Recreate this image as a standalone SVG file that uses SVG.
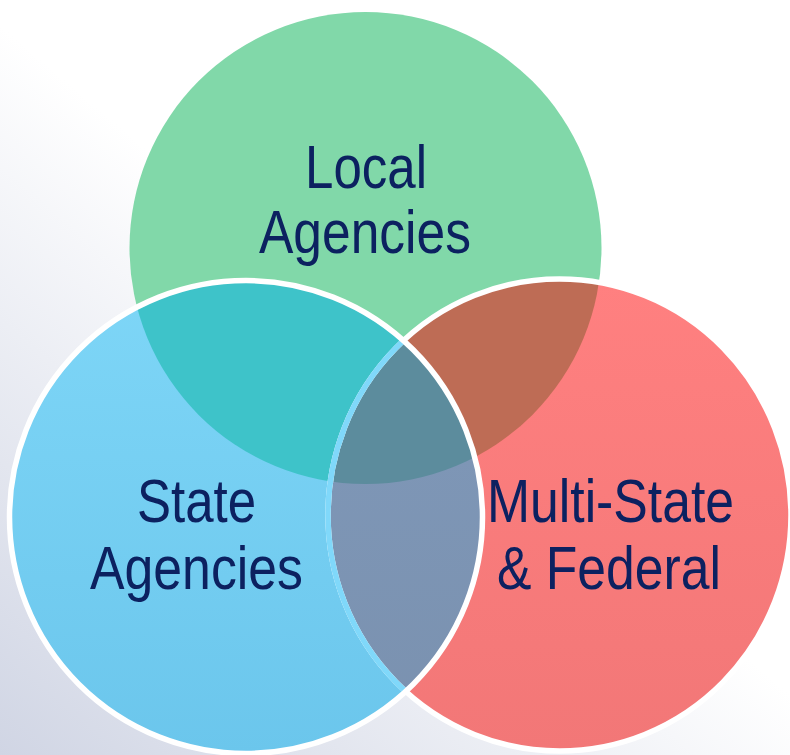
<svg xmlns="http://www.w3.org/2000/svg" width="790" height="755" viewBox="0 0 790 755">
<style>
.lbl{font-family:"Liberation Sans",Arial,sans-serif;font-size:62px;fill:#0C2160;text-anchor:middle}
.ws{fill:none;stroke:#FFFFFF;stroke-width:5.5}
</style>
<defs>
<linearGradient id="bg" gradientUnits="userSpaceOnUse" x1="360" y1="330" x2="0" y2="755">
<stop offset="0" stop-color="#FFFFFF"/>
<stop offset="1" stop-color="#D0D5E4"/>
</linearGradient>
<linearGradient id="gBlue" x1="0" y1="0" x2="0" y2="1">
<stop offset="0" stop-color="#7ED6F7"/>
<stop offset="1" stop-color="#6BC6EC"/>
</linearGradient>
<linearGradient id="gRed" x1="0" y1="0" x2="0" y2="1">
<stop offset="0" stop-color="#FF8080"/>
<stop offset="1" stop-color="#F27777"/>
</linearGradient>
<linearGradient id="gBR" x1="0" y1="0" x2="0" y2="1">
<stop offset="0" stop-color="#8099BA"/>
<stop offset="1" stop-color="#7A91AF"/>
</linearGradient>
<clipPath id="cG"><circle cx="365.5" cy="248" r="236"/></clipPath>
<clipPath id="cB"><circle cx="246" cy="517" r="236.5"/></clipPath>
<clipPath id="cR"><ellipse cx="559.5" cy="515" rx="231.5" ry="236"/></clipPath>
</defs>
<rect x="0" y="0" width="790" height="755" fill="url(#bg)"/>
<g id="local-agencies">
<circle cx="365.5" cy="248" r="236" fill="#81D8A9"/>
</g>
<g id="multi-state-federal">
<ellipse cx="559.5" cy="515" rx="231.5" ry="236" fill="url(#gRed)"/>
</g>
<g id="state-agencies">
<circle cx="246" cy="517" r="236.5" fill="url(#gBlue)"/>
</g>
<g id="overlaps">
<circle cx="246" cy="517" r="236.5" fill="#3EC3C9" clip-path="url(#cG)"/>
<ellipse cx="559.5" cy="515" rx="231.5" ry="236" fill="#BE6C55" clip-path="url(#cG)"/>
<circle cx="246" cy="517" r="236.5" fill="url(#gBR)" clip-path="url(#cR)"/>
<g clip-path="url(#cG)">
<circle cx="246" cy="517" r="236.5" fill="#5C8C9D" clip-path="url(#cR)"/>
</g>
</g>
<g id="outlines">
<ellipse class="ws" cx="559.5" cy="515" rx="231.5" ry="236"/>
<ellipse cx="559.5" cy="515" rx="231.5" ry="236" fill="none" stroke="#80D8FA" stroke-width="5.5" clip-path="url(#cB)"/>
<circle class="ws" cx="246" cy="517" r="236.5"/>
</g>
<g id="labels">
<text class="lbl" x="366" y="188" textLength="122" lengthAdjust="spacingAndGlyphs">Local</text>
<text class="lbl" x="365" y="253" textLength="212" lengthAdjust="spacingAndGlyphs">Agencies</text>
<text class="lbl" x="196.5" y="522" textLength="119" lengthAdjust="spacingAndGlyphs">State</text>
<text class="lbl" x="196.5" y="589" textLength="213" lengthAdjust="spacingAndGlyphs">Agencies</text>
<text class="lbl" x="610.5" y="522" textLength="247" lengthAdjust="spacingAndGlyphs">Multi-State</text>
<text class="lbl" x="609" y="589" textLength="224" lengthAdjust="spacingAndGlyphs">&amp; Federal</text>
</g>
</svg>
